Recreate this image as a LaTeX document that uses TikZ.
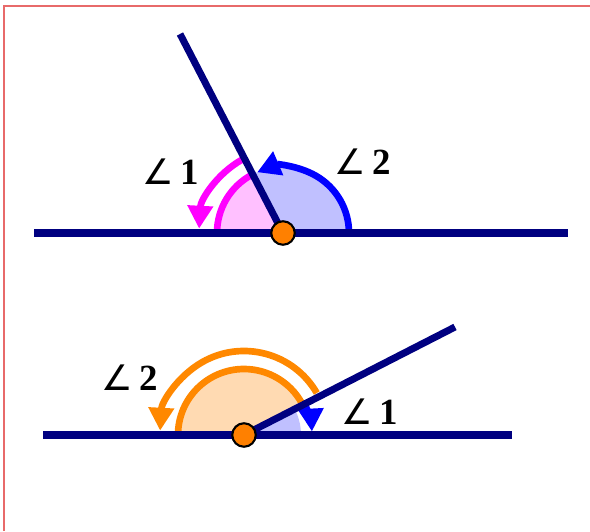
\documentclass[tikz,border=0pt]{standalone}
\usepackage{fontspec}
\setmainfont{Liberation Serif}
\newfontfamily\symbfont{DejaVu Sans}
\usetikzlibrary{arrows.meta}
\definecolor{navyline}{HTML}{000080}
\definecolor{frame}{HTML}{E86A6A}
\definecolor{dotorange}{HTML}{FF8000}
\definecolor{bluefill}{HTML}{C0C0FF}
\definecolor{pinkfill}{HTML}{FFC0FF}
\definecolor{peachfill}{HTML}{FFDAB2}
\definecolor{arcorange}{HTML}{FF8800}
\definecolor{arcmagenta}{HTML}{FF00FF}
\definecolor{arcblue}{HTML}{0000FF}
\newcommand{\ang}[1]{{\symbfont\fontsize{20}{22}\selectfont ∠}\,\textbf{#1}}

\begin{document}
\begin{tikzpicture}[x=0.02cm,y=0.02cm,
		ray/.style={line width=4pt,draw=navyline},
		hinge/.style={circle,fill=dotorange,draw=black,line width=1.2pt,inner sep=0pt,minimum size=0.47cm},
		turn/.style={line width=3.8pt},
		tip/.style={-{Triangle[length=13pt,width=14pt]}},
		anglabel/.style={font=\fontsize{21}{23}\selectfont}]
	\useasboundingbox (0,0) rectangle (590,531);
	\draw[frame,line width=1pt] (4,0) -- (4,525) -- (590,525);
	% upper figure
	\coordinate (O1) at (283,298);
	\coordinate (A1) at (34,298);
	\coordinate (B1) at (568,298);
	\coordinate (P1) at (180,497);
	\fill[bluefill] (O1) -- ++(0:66) arc[start angle=0,end angle=117.4,radius=66] -- cycle;
	\fill[pinkfill] (O1) -- ++(117.4:66) arc[start angle=117.4,end angle=180,radius=66] -- cycle;
	\draw[turn,arcblue,tip] (O1) ++(0:66) arc[start angle=0,end angle=113,radius=66];
	\draw[turn,arcmagenta] (O1) ++(180:66) arc[start angle=180,end angle=118,radius=66];
	\draw[turn,arcmagenta,tip] (O1) ++(119:84) arc[start angle=119,end angle=177,radius=84];
	\draw[ray] (A1) -- (B1);
	\draw[ray] (O1) -- (P1);
	\node[hinge] (dot1) at (O1) {};
	\node[anglabel] (lab11) at (171,359) {\ang{1}};
	\node[anglabel] (lab12) at (363,369) {\ang{2}};
	% lower figure
	\coordinate (O2) at (244,96);
	\coordinate (A2) at (43,96);
	\coordinate (B2) at (512,96);
	\coordinate (P2) at (455,204);
	\fill[bluefill] (O2) -- ++(0:57) arc[start angle=0,end angle=27.1,radius=57] -- cycle;
	\fill[peachfill] (O2) -- ++(27.1:65) arc[start angle=27.1,end angle=180,radius=65] -- cycle;
	\draw[turn,arcblue,tip] (O2) ++(26:68) arc[start angle=26,end angle=3,radius=68];
	\draw[turn,arcorange] (O2) ++(180:66) arc[start angle=180,end angle=29,radius=66];
	\draw[turn,arcorange,tip] (O2) ++(30:84) arc[start angle=30,end angle=177,radius=84];
	\draw[ray] (A2) -- (B2);
	\draw[ray] (O2) -- (P2);
	\node[hinge] (dot2) at (O2) {};
	\node[anglabel] (lab22) at (130,153) {\ang{2}};
	\node[anglabel] (lab21) at (370,119) {\ang{1}};
\end{tikzpicture}
\end{document}
